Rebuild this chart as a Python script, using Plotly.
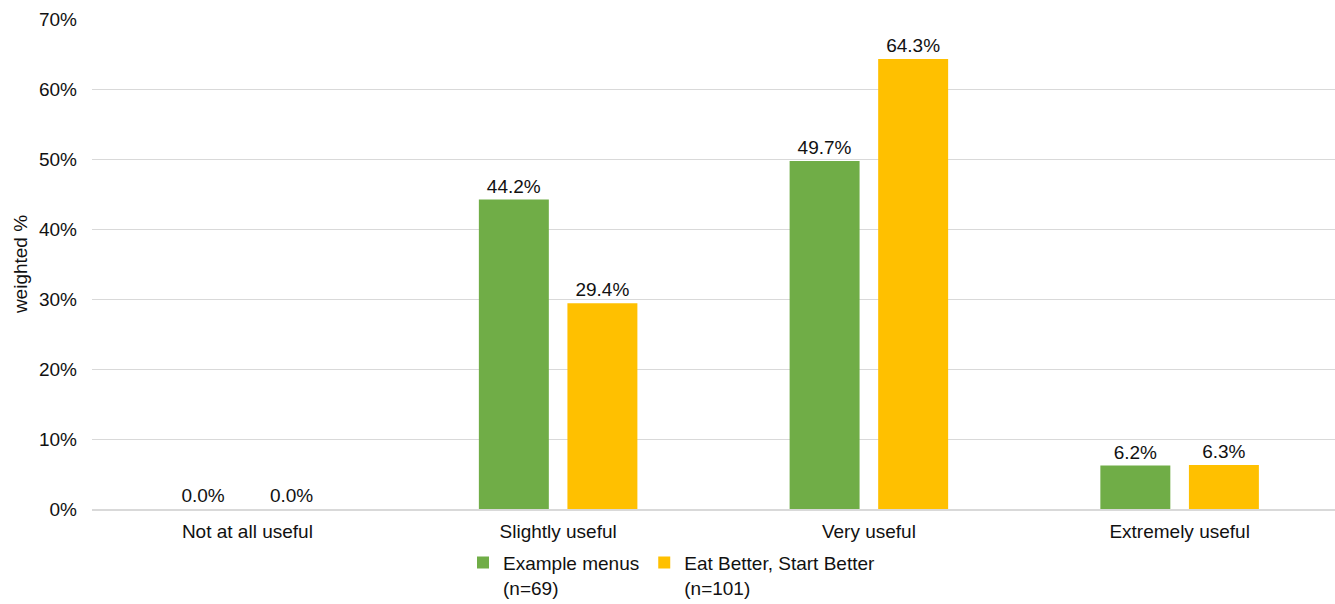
import plotly.graph_objects as go

categories = ["Not at all useful", "Slightly useful", "Very useful", "Extremely useful"]
example_menus = [0.0, 44.2, 49.7, 6.2]
eat_better = [0.0, 29.4, 64.3, 6.3]
series_names = ["Example menus<br>(n=69)", "Eat Better, Start Better<br>(n=101)"]
y_ticks = [0, 10, 20, 30, 40, 50, 60, 70]

font_family = "Liberation Sans, Arial, sans-serif"
text_color = "#111111"
fsize = 19

fig = go.Figure()
for name, vals, color in [
    (series_names[0], example_menus, "#70ad47"),
    (series_names[1], eat_better, "#ffc000"),
]:
    fig.add_trace(go.Bar(
        x=categories, y=vals, name=name,
        marker=dict(color=color, line=dict(width=0)),
        text=[f"{v:.1f}%" for v in vals],
        textposition="outside",
        textfont=dict(size=fsize, color=text_color, family=font_family),
        cliponaxis=False,
    ))

fig.update_layout(
    width=1335, height=604,
    margin=dict(l=92, r=0, t=19, b=95, autoexpand=False),
    paper_bgcolor="white", plot_bgcolor="white",
    barmode="group", bargap=0.43, bargroupgap=0.21,
    font=dict(family=font_family, size=fsize, color=text_color),
    showlegend=True,
    legend=dict(
        orientation="h", xref="container", x=0.503, xanchor="center",
        yref="container", y=0.1, yanchor="top",
        font=dict(size=fsize, color=text_color), valign="top",
        itemwidth=30, tracegroupgap=0,
    ),
    xaxis=dict(showline=True, linecolor="#d9d9d9", linewidth=1.5,
               ticks="", tickfont=dict(size=fsize), ticklabelstandoff=4),
    yaxis=dict(range=[0, 70], tickvals=y_ticks,
               ticktext=[f"{t}%" for t in y_ticks],
               showgrid=True, gridcolor="#d9d9d9", gridwidth=1,
               zeroline=False, showline=False, ticks="",
               tickfont=dict(size=fsize), ticklabelstandoff=14,
               title=dict(text="weighted %", font=dict(size=fsize), standoff=6)),
)

fig.write_html("out.html")
